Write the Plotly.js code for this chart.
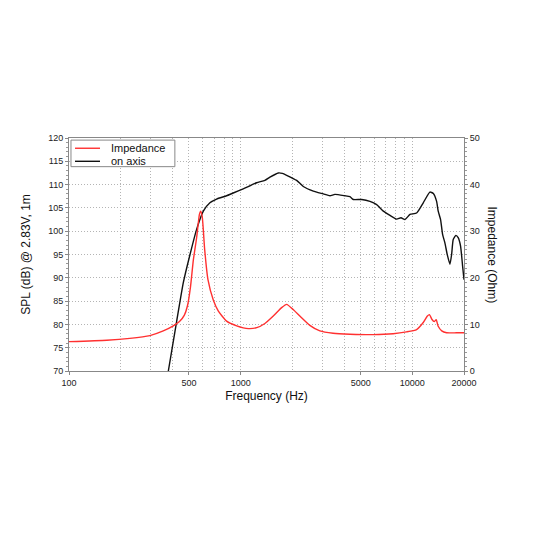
<!DOCTYPE html>
<html>
<head>
<meta charset="utf-8">
<script src="https://cdn.plot.ly/plotly-3.0.1.min.js"></script>
<style>html,body{margin:0;padding:0;background:#fff;}#chart{width:533px;height:533px;}</style>
</head>
<body>
<div id="chart"></div>
<script>
// SPL on axis (dB)
const splFreq = [379,424,463,507,554,606,662,724,828,905,1035,1239,1384,1481,1657,1750,1853,2119,2317,2650,3030,3311,3540,4048,4330,4530,5070,5665,6196,6776,7411,8100,8590,9060,9690,10590,11580,12650,13250,13850,14150,14610,15010,15480,15970,16560,16940,17310,17940,18500,19100,19630,20000];
const splValues = [70.0,80.7,88.9,95.0,100.4,104.3,106.1,106.9,107.6,108.2,109.1,110.4,110.9,111.6,112.5,112.4,112.0,110.9,109.6,108.6,108.0,107.6,107.9,107.6,107.4,106.8,106.8,106.4,105.7,104.3,103.4,102.6,102.9,102.5,103.6,103.9,106.1,108.4,108.1,106.4,104.3,102.5,99.3,97.5,95.0,92.9,95.0,98.2,99.1,98.6,96.8,92.5,89.6];
// Impedance (Ohm)
const impFreq = [100,166,226,296,354,405,440,470,490,510,530,554,575,585,598,617,645,692,740,828,948,1110,1240,1384,1549,1733,1853,2022,2212,2530,2893,3455,4330,5900,7730,9250,10590,11580,12240,12590,12990,13410,13770,14150,14840,15840,18080,20000];
const impValues = [6.3,6.6,7.0,7.6,8.6,9.7,10.6,12.0,14.0,18.0,23.8,28.6,33.6,34.3,32.9,26.1,19.6,15.3,12.9,10.7,9.7,9.1,9.3,10.2,11.8,13.6,14.3,13.2,11.8,9.8,8.6,8.1,7.9,7.8,8.0,8.4,8.9,10.4,11.8,12.1,11.1,10.6,11.0,9.6,8.6,8.2,8.2,8.2];
// Axis ticks
const xTickVals = [100,500,1000,5000,10000,20000];
const xTickText = ['100','500','1000','5000','10000','20000'];
const xGridVals = [200,300,400,600,700,800,900,2000,3000,4000,6000,7000,8000,9000];
const seriesNames = ['Impedance', 'on axis'];
const seriesColors = ['#ff3030', '#111111'];

const FONT = 'Liberation Sans, Arial, Helvetica, sans-serif';
const GRID = {gridcolor: '#b4b4b4', griddash: '1px,2px', gridwidth: 1};
const traces = [
  {x: impFreq, y: impValues, name: seriesNames[0], type: 'scatter', mode: 'lines', yaxis: 'y2',
   line: {color: seriesColors[0], width: 1.4, shape: 'spline', smoothing: 0.5}},
  {x: splFreq, y: splValues, name: seriesNames[1], type: 'scatter', mode: 'lines', yaxis: 'y',
   line: {color: seriesColors[1], width: 1.4, shape: 'spline', smoothing: 0.5}}
];
// legend box (drawn as layout decoration)
const lg = {x0: 0.005, x1: 0.268, y0: 0.877, y1: 0.991, lx0: 0.0152, lx1: 0.0785, tx: 0.101, rows: [0.956, 0.900]};
const shapes = [
  {type: 'rect', xref: 'paper', yref: 'paper', x0: lg.x0, x1: lg.x1, y0: lg.y0, y1: lg.y1,
   line: {color: '#888', width: 1}, fillcolor: '#ffffff', layer: 'above'}
];
const annotations = [
  {text: 'Impedance (Ohm)', xref: 'paper', yref: 'paper', x: 1.071, y: 0.5, textangle: 90, showarrow: false,
   xanchor: 'center', yanchor: 'middle', font: {family: FONT, size: 12, color: '#111'}}
];
seriesNames.forEach((n, i) => {
  shapes.push({type: 'line', xref: 'paper', yref: 'paper', x0: lg.lx0, x1: lg.lx1, y0: lg.rows[i], y1: lg.rows[i],
               line: {color: seriesColors[i], width: 1.4}, layer: 'above'});
  annotations.push({text: n, xref: 'paper', yref: 'paper', x: lg.tx, y: lg.rows[i], xanchor: 'left', yanchor: 'middle',
                    showarrow: false, font: {family: FONT, size: 11, color: '#111'}});
});
const layout = {
  width: 533, height: 533,
  margin: {l: 69, r: 69, t: 138, b: 161.5},
  paper_bgcolor: '#ffffff', plot_bgcolor: '#ffffff',
  font: {family: FONT, size: 9, color: '#222'},
  showlegend: false,
  xaxis: Object.assign({type: 'log', range: [2, Math.log10(20000)], tickmode: 'array', tickvals: xTickVals, ticktext: xTickText,
          ticks: 'outside', ticklen: 3, tickcolor: '#888', showline: true, linecolor: '#888', linewidth: 1, mirror: true,
          showgrid: true, zeroline: false,
          minor: Object.assign({tickmode: 'array', tickvals: xGridVals, showgrid: true, ticks: ''}, GRID),
          tickfont: {size: 9, color: '#222'},
          title: {text: 'Frequency (Hz)', font: {family: FONT, size: 12, color: '#111'}, standoff: 4}}, GRID),
  yaxis: Object.assign({range: [70, 120], dtick: 5, tick0: 70, ticks: 'outside', ticklen: 3, tickcolor: '#888',
          showline: true, linecolor: '#888', linewidth: 1, showgrid: true,
          zeroline: false, tickfont: {size: 9, color: '#222'},
          minor: {dtick: 1, ticks: 'outside', ticklen: 2, tickcolor: '#999', showgrid: false},
          title: {text: 'SPL (dB) @ 2.83V, 1m', font: {family: FONT, size: 12, color: '#111'}, standoff: 14}}, GRID),
  yaxis2: {range: [0, 50], dtick: 10, tick0: 0, overlaying: 'y', side: 'right', ticks: 'outside', ticklen: 3, tickcolor: '#888',
           showline: true, linecolor: '#888', linewidth: 1, showgrid: false, zeroline: false,
           tickfont: {size: 9, color: '#222'},
           minor: {dtick: 1, ticks: 'outside', ticklen: 2, tickcolor: '#999', showgrid: false}},
  shapes: shapes,
  annotations: annotations
};
Plotly.newPlot('chart', traces, layout, {displayModeBar: false, staticPlot: true});
</script>
</body>
</html>
